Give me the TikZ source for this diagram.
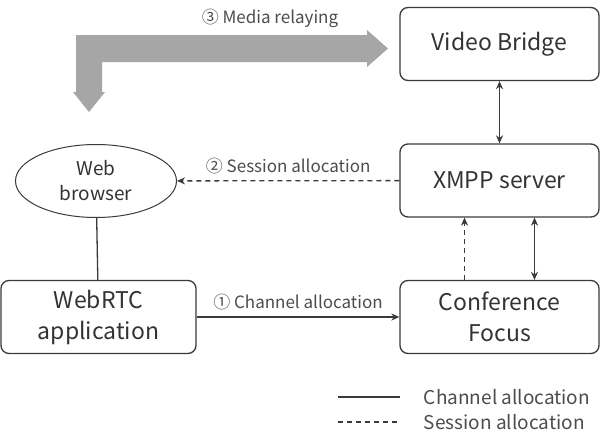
\documentclass[tikz,border=0pt]{standalone}
\usepackage{fontspec}
\setmainfont{Noto Sans CJK KR}
\usetikzlibrary{arrows.meta,shapes.geometric}
\definecolor{bandgray}{HTML}{A6A6A6}
\definecolor{linegray}{HTML}{3A3A3A}
\begin{document}
\begin{tikzpicture}[x=1pt, y=-1pt, >={Stealth[length=8pt,width=7pt]},
    box/.style={draw=linegray, line width=1.3pt, rounded corners=8pt, minimum width=199pt,
                minimum height=73pt, align=center, text=black!80,
                font=\fontsize{23}{31}\selectfont},
    conn/.style={draw=linegray, line width=1.3pt},
    lbl/.style={text=black!70, font=\fontsize{17}{20}\selectfont},
    leg/.style={text=black!70, font=\fontsize{19}{22}\selectfont, anchor=west}]
    \useasboundingbox (0,0) rectangle (603,431);

    % Nodi
    \node[box] (bridge) at (499.5,44) {Video Bridge};
    \node[box] (xmpp) at (499.5,180.5) {XMPP server};
    \node[box] (focus) at (499.5,317) {Conference\\Focus};
    \node[box, minimum width=195pt] (webrtc) at (98.5,317) {WebRTC\\application};
    \node[ellipse, draw=linegray, line width=1pt, minimum width=161pt, minimum height=73pt,
          inner sep=0pt, align=center, text=black!80, font=\fontsize{19}{25}\selectfont]
          (browser) at (96,181) {Web\\browser};

    % Freccia grande
    \fill[bandgray] (76,35) -- (367,35) -- (367,30) -- (388,48.5) -- (367,67) -- (367,62)
        -- (102,62) -- (102,92) -- (105,92) -- (89,112) -- (73,92) -- (76,92) -- cycle;
    \node[lbl] (media) at (270,18) {③ Media relaying};

    % Collegamenti
    \draw[conn, <->] (bridge) -- (xmpp);
    \draw[conn, ->, dash pattern=on 5pt off 4pt] ([xshift=-35pt]focus.north) -- ([xshift=-35pt]xmpp.south);
    \draw[conn, <->] ([xshift=35pt]xmpp.south) -- ([xshift=35pt]focus.north);
    \draw[conn, ->, dash pattern=on 5pt off 4pt] (xmpp) -- (browser)
        node[lbl, midway, above=3pt] {② Session allocation};
    \draw[conn, ->] (webrtc) -- (focus)
        node[lbl, midway, above=3pt] {① Channel allocation};
    \draw[conn] (browser) -- (webrtc);

    % Legenda
    \coordinate (c1) at (338,397);
    \coordinate (c2) at (400,397);
    \coordinate (s1) at (338,422);
    \coordinate (s2) at (400,422);
    \draw[conn] (c1) -- (c2) node[leg, right=20pt] (chan) {Channel allocation};
    \draw[conn, dash pattern=on 5pt off 4pt] (s1) -- (s2) node[leg, right=20pt] (sess) {Session allocation};
\end{tikzpicture}
\end{document}
